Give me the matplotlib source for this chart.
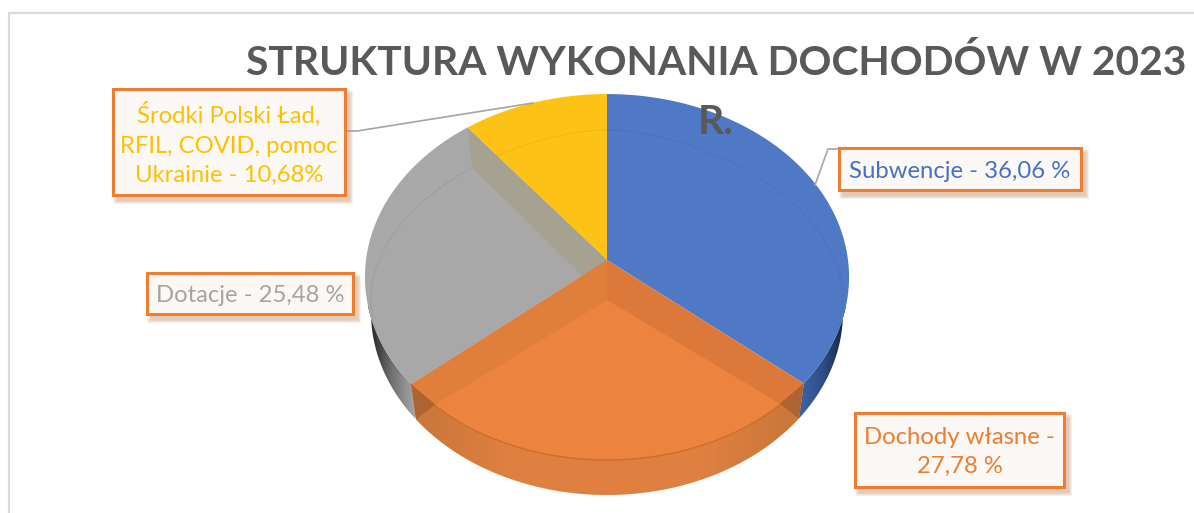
import numpy as np
import matplotlib
matplotlib.use("Agg")
import matplotlib.pyplot as plt
from matplotlib.patches import Polygon, Rectangle
from matplotlib.colors import LinearSegmentedColormap

# dane z wykresu
categories = ["Subwencje", "Dochody własne", "Dotacje", "Środki Polski Ład"]
shares = [36.06, 27.78, 25.48, 10.68]
colors = ["#5079C5", "#EC8440", "#A8A8A8", "#FCC316"]
title_lines = ["STRUKTURA WYKONANIA DOCHODÓW W 2023", "R."]
label_texts = ["Subwencje - 36,06 %", "Dochody własne -\n27,78 %", "Dotacje - 25,48 %",
               "Środki Polski Ład,\nRFIL, COVID, pomoc\nUkrainie - 10,68%"]
label_colors = ["#4472C4", "#ED7D31", "#A5A5A5", "#FFC000"]

W, H = 1194, 513
plt.rcParams['font.family'] = ['Lato', 'DejaVu Sans']


def rim(t):
    # gorna krawedz kola, lekka perspektywa
    u, v = np.sin(t), np.cos(t)
    s = 1 / (1 + 0.093 * v)
    return np.column_stack([607 + 241 * u * s, 260 - 181.4 * v * s])


def floor(t):
    # wewnetrzny pierscien widoczny przez przezroczysta gore
    u, v = np.sin(t), np.cos(t)
    s = 1 / (1 - 0.03 * v)
    return np.column_stack([607 + 236 * np.sign(u) * np.abs(u) ** 1.18, 300 - 165 * v * s])


def bottom(t):
    p = rim(t)
    p[:, 0] = 607 + (p[:, 0] - 607) * 0.975
    p[:, 1] += 35
    return p


def arc(a, b):
    return np.linspace(a, b, 120)


def gradient_side(ax, a, b, x0, x1, cols):
    # sciana boczna z poziomym gradientem
    pts = np.vstack([rim(arc(a, b)), bottom(arc(b, a))])
    patch = Polygon(pts, closed=True, fc="none", ec="none")
    ax.add_patch(patch)
    cmap = LinearSegmentedColormap.from_list("s", cols)
    im = ax.imshow(np.linspace(0, 1, 256)[None, :], cmap=cmap, extent=[x0, x1, 513, 0],
                   aspect="auto", zorder=2)
    im.set_clip_path(patch)


def label_box(ax, x0, y0, x1, y1):
    for i in range(8, 0, -1):
        ax.add_patch(Rectangle((x0 + 4 - i / 2, y0 + 5 - i / 2), x1 - x0 + i, y1 - y0 + i, fc="#C8906A",
                               ec="none", alpha=0.07, zorder=6))
    ax.add_patch(Rectangle((x0, y0), x1 - x0, y1 - y0, fc="#FCF8F5", ec="#ED7D31", lw=2.2, zorder=7))


fig = plt.figure(figsize=(W / 100, H / 100), dpi=100)
ax = fig.add_axes([0, 0, 1, 1])
ax.set_xlim(0, W)
ax.set_ylim(H, 0)
ax.axis("off")

# ramka wykresu
ax.plot([9, 9, 1194], [513, 13, 13], color="#D9D9D9", lw=1.6, zorder=1)

ends = np.cumsum(shares) / 100 * 2 * np.pi
starts = np.concatenate([[0], ends[:-1]])

# sciany boczne
gradient_side(ax, ends[1], 1.5 * np.pi, 368, 415, ["#1A1A1A", "#707070", "#A6A6A6"])
gradient_side(ax, np.pi / 2, ends[0], 799, 846, ["#3C64A8", "#2F4F86", "#14233F"])
gradient_side(ax, ends[0], ends[1], 410, 804, ["#C8763A", "#DE8040", "#E08040", "#DE8040", "#C8763A"])

# gorne wycinki
c = np.array([607, 260])
for i in [0, 2, 3]:
    ax.add_patch(Polygon(np.vstack([c, rim(arc(starts[i], ends[i]))]), fc=colors[i], ec="none", zorder=3))

# pierscien i pas miedzy szarym a zoltym
ring = floor(arc(0, 2 * np.pi))
ax.plot(ring[:, 0], ring[:, 1], color="#000000", lw=0.6, alpha=0.07, zorder=3.5)
fl_c = np.array([607, 300])
t3 = np.array([ends[2]])
ax.add_patch(Polygon(np.vstack([c, rim(t3), floor(t3), fl_c]), fc="#A6A291", ec="none", zorder=3.6))

# pomaranczowy wycinek ze scianami
t0, t1 = np.array([ends[0]]), np.array([ends[1]])
ax.add_patch(Polygon(np.vstack([c, rim(arc(ends[0], ends[1]))]), fc="#DC7839", ec="none", zorder=4))
ax.add_patch(Polygon(np.vstack([c, rim(t1), floor(t1), fl_c]), fc="#E07E3C", ec="none", zorder=4.1))
ax.add_patch(Polygon(np.vstack([fl_c, floor(t0), rim(arc(2.55, 3.73)), floor(t1)]), fc=colors[1], ec="none", zorder=4.2))
rim_arc = rim(arc(ends[0], ends[1]))
ax.plot(rim_arc[:, 0], rim_arc[:, 1], color="#D26C28", lw=1, zorder=4.3)

# ciemne trojkaty w rogach
ax.add_patch(Polygon(np.vstack([rim(t0), floor(t0), bottom(t0)]), fc="#AD6430", ec="none", zorder=4.4))
ax.add_patch(Polygon(np.vstack([rim(t1), floor(t1), bottom(t1)]), fc="#AD6430", ec="none", zorder=4.4))

# linie odniesienia
ax.plot([345, 357, 533], [131, 131, 103], color="#A5A5A5", lw=1.2, zorder=5)
ax.plot([839, 828, 815], [149, 149, 185], color="#A5A5A5", lw=1.2, zorder=5)

# tytul
ax.text(716, 63, title_lines[0], ha="center", va="center", fontsize=29.3, fontweight="bold", color="#595959", zorder=8)
ax.text(716, 122, title_lines[1], ha="center", va="center", fontsize=29.3, fontweight="bold", color="#595959", zorder=8)

# etykiety
boxes = [(839, 148, 1081, 190), (855, 413, 1064, 487), (147, 273, 353, 314), (113, 89, 345, 195)]
for b, txt, col in zip(boxes, label_texts, label_colors):
    label_box(ax, *b)
    ax.text((b[0] + b[2]) / 2, (b[1] + b[3]) / 2 + 2, txt, ha="center", va="center", fontsize=17.2, color=col,
            linespacing=1.5, zorder=8)

fig.savefig("out.png", dpi=100)
